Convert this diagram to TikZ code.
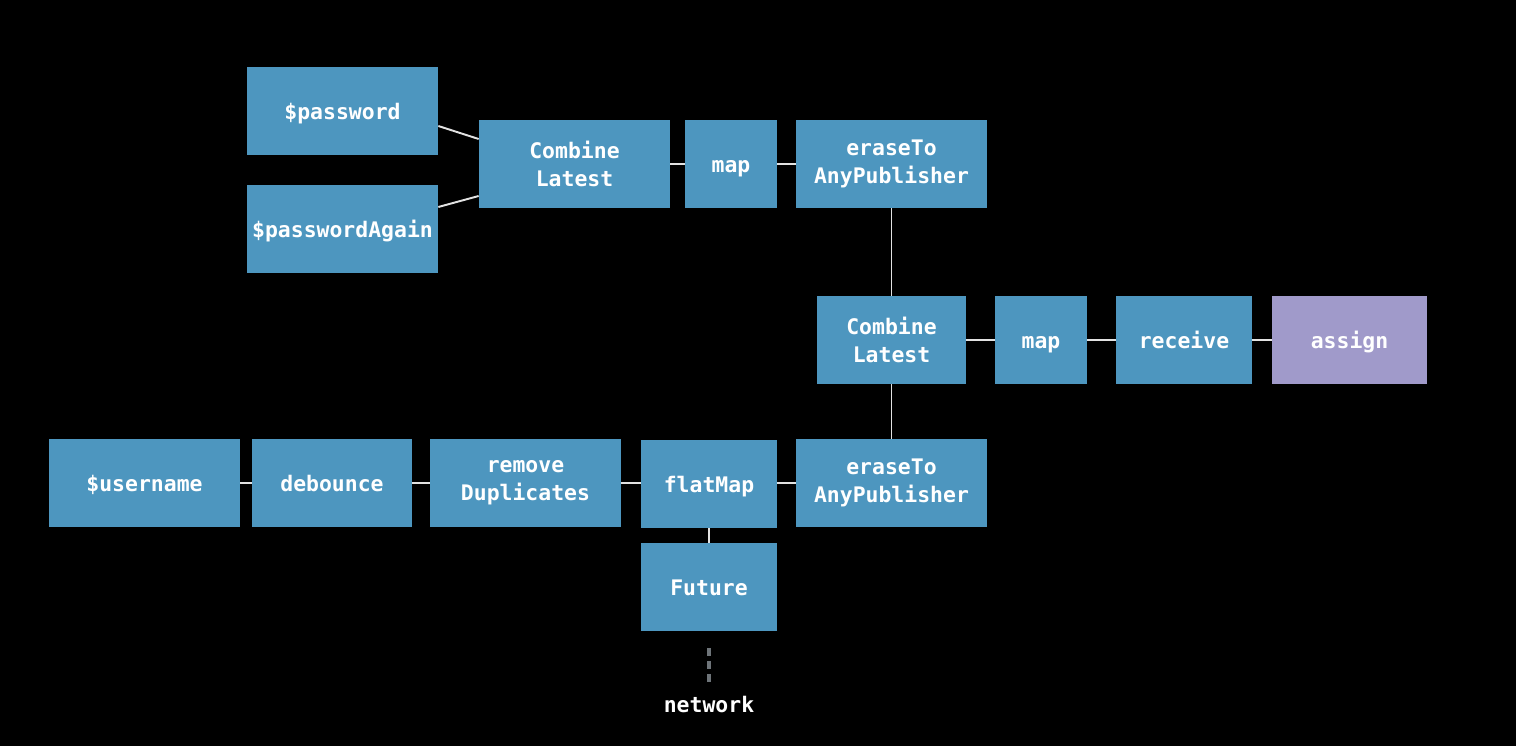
\documentclass[tikz,border=0pt]{standalone}
\usepackage{fontspec}
\setmonofont{DejaVu Sans Mono}
\usepackage{xcolor}
\usepackage{tikz}
\definecolor{opblue}{HTML}{4D96BF}
\definecolor{oppurple}{HTML}{A09ACA}
\definecolor{wire}{HTML}{E2E2E2}
\definecolor{netgray}{HTML}{6E7479}
\tikzset{
  op/.style={rectangle,fill=opblue,text=white,inner sep=0pt,align=center,
    minimum height=1.76cm,font=\ttfamily\bfseries\fontsize{12.2}{15.9}\selectfont},
  opline/.style={op,text height=12.7pt,text depth=2.9pt},
  sink/.style={opline,fill=oppurple},
  link/.style={draw=wire,line width=1.1pt}
}
\begin{document}
\begin{tikzpicture}[x=0.02cm,y=-0.02cm]
    \fill[black] (0,0) rectangle (1516,746);
    \node[opline,minimum width=3.82cm] (pw) at (342.5,111) {\$password};
    \node[opline,minimum width=3.82cm] (pwagain) at (342.5,229) {\$passwordAgain};
    \node[op,minimum width=3.82cm] (pwcombine) at (574.5,164) {Combine\\Latest};
    \node[opline,minimum width=1.84cm] (pwmap) at (731,164) {map};
    \node[op,minimum width=3.82cm] (pwerase) at (891.5,164) {eraseTo\\AnyPublisher};
    \node[op,minimum width=2.98cm] (combine) at (891.5,340) {Combine\\Latest};
    \node[opline,minimum width=1.84cm] (map) at (1041,340) {map};
    \node[opline,minimum width=2.72cm] (receive) at (1184,340) {receive};
    \node[sink,minimum width=3.10cm] (assign) at (1349.5,340) {assign};
    \node[opline,minimum width=3.82cm] (user) at (144.5,483) {\$username};
    \node[opline,minimum width=3.20cm] (debounce) at (332,483) {debounce};
    \node[op,minimum width=3.82cm] (dedup) at (525.5,483) {remove\\Duplicates};
    \node[opline,minimum width=2.72cm] (flatmap) at (709,484) {flatMap};
    \node[op,minimum width=3.82cm] (usererase) at (891.5,483) {eraseTo\\AnyPublisher};
    \node[opline,minimum width=2.72cm] (future) at (709,587) {Future};
    \node[text=white,inner sep=0pt,font=\ttfamily\bfseries\fontsize{12.2}{15.9}\selectfont] (network) at (709,705) {network};
    \coordinate (nettop) at (709,648);
    \coordinate (netbot) at (709,682);

    \draw[link] ([yshift=-0.3cm]pw.east) -- ([yshift=0.5cm]pwcombine.west);
    \draw[link] ([yshift=0.44cm]pwagain.east) -- ([yshift=-0.64cm]pwcombine.west);
    \draw[link] (pwcombine) -- (pwmap);
    \draw[link] (pwmap) -- (pwerase);
    \draw[link] (pwerase) -- (combine);
    \draw[link] (combine) -- (map);
    \draw[link] (map) -- (receive);
    \draw[link] (receive) -- (assign);
    \draw[link] (combine) -- (usererase);
    \draw[link] (user) -- (debounce);
    \draw[link] (debounce) -- (dedup);
    \draw[link] (dedup.east) -- (dedup.east -| flatmap.west);
    \draw[link] (flatmap.east |- usererase.west) -- (usererase.west);
    \draw[link] (flatmap) -- (future);
    \draw[draw=netgray,line width=2pt,dash pattern=on 0.16cm off 0.1cm] (nettop) -- (netbot);
\end{tikzpicture}
\end{document}
